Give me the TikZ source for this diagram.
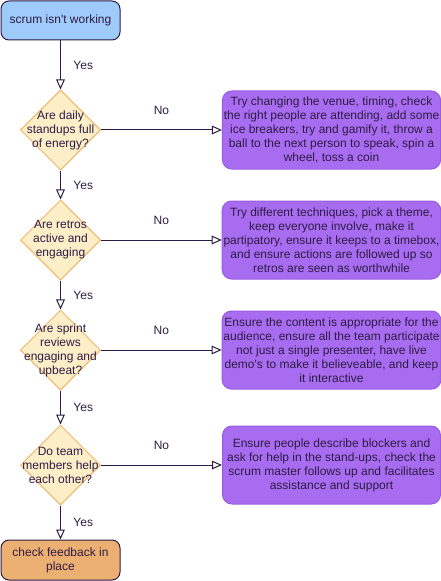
\documentclass[tikz,border=0pt]{standalone}
\usepackage{fontspec}
\setmainfont{Liberation Sans}
\usetikzlibrary{shapes.geometric, arrows.meta, positioning}
\definecolor{ink}{HTML}{2E1B45}
\definecolor{startfill}{HTML}{9ECBFA}
\definecolor{endfill}{HTML}{EDB073}
\definecolor{askfill}{HTML}{FCEFC8}
\definecolor{askedge}{HTML}{F2B56B}
\definecolor{fixfill}{HTML}{A86CF0}
\definecolor{fixedge}{HTML}{9A5BE4}

\begin{document}
\begin{tikzpicture}[node distance={82.5pt}, line width=0.75pt,
    every node/.append style = {font=\fontsize{9}{10.5}\selectfont, text=ink},
    terminal/.style = {draw=ink, rectangle, rounded corners=6pt, minimum width=89.25pt, minimum height=29.25pt, align=center},
    ask/.style = {draw=askedge, fill=askfill, diamond, minimum width=60pt, minimum height=60pt, inner sep=0pt},
    fix/.style = {draw=fixedge, fill=fixfill, rectangle, rounded corners=7pt, minimum width=163.5pt, minimum height=58.5pt, align=center, inner sep=1pt},
    flow/.style = {draw=ink, -{Triangle[open, length=7.5pt, width=6.5pt]}},
    yes/.style = {midway, right=6pt},
    no/.style = {midway, above=8pt}]
    \useasboundingbox (0,0) rectangle (330.75pt,-435.75pt);
    \node[terminal, fill=startfill] (start) at (45.375pt,-15.375pt) {scrum isn\textquotesingle t working};
    \node[ask] (d1) [below of=start, node distance={82.125pt}, label={[align=center]center:Are daily\\standups full\\of energy?}] {};
    \node[ask] (d2) [below of=d1, label={[align=center]center:Are retros\\active and\\engaging}] {};
    \node[ask] (d3) [below of=d2, label={[align=center]center:Are sprint\\reviews\\engaging and\\upbeat?}] {};
    \node[ask] (d4) [below of=d3, node distance={86.25pt}, label={[align=center]center:Do team\\members help\\each other?}] {};
    \node[terminal, fill=endfill] (end) [below of=d4, node distance={71.25pt}, minimum height=30pt] {check feedback in\\place};
    \node[fix] (f1) [right of=d1, node distance={203.25pt}] {Try changing the venue, timing, check\\the right people are attending, add some\\ice breakers, try and gamify it, throw a\\ball to the next person to speak, spin a\\wheel, toss a coin};
    \node[fix] (f2) [right of=d2, node distance={203.25pt}] {Try different techniques, pick a theme,\\keep everyone involve, make it\\partipatory, ensure it keeps to a timebox,\\and ensure actions are followed up so\\retros are seen as worthwhile};
    \node[fix] (f3) [right of=d3, node distance={203.25pt}] {Ensure the content is appropriate for the\\audience, ensure all the team participate\\not just a single presenter, have live\\demo\textquotesingle s to make it believeable, and keep\\it interactive};
    \node[fix] (f4) [right of=d4, node distance={203.25pt}] {Ensure people describe blockers and\\ask for help in the stand-ups, check the\\scrum master follows up and facilitates\\assistance and support};
    \draw[flow] (start) -- node[yes] {Yes} (d1);
    \draw[flow] (d1) -- node[yes] {Yes} (d2);
    \draw[flow] (d2) -- node[yes] {Yes} (d3);
    \draw[flow] (d3) -- node[yes] {Yes} (d4);
    \draw[flow] (d4) -- node[yes] {Yes} (end);
    \draw[flow] (d1) -- node[no] {No} (f1);
    \draw[flow] (d2) -- node[no] {No} (f2);
    \draw[flow] (d3) -- node[no] {No} (f3);
    \draw[flow] (d4) -- node[no] {No} (f4);
\end{tikzpicture}
\end{document}
